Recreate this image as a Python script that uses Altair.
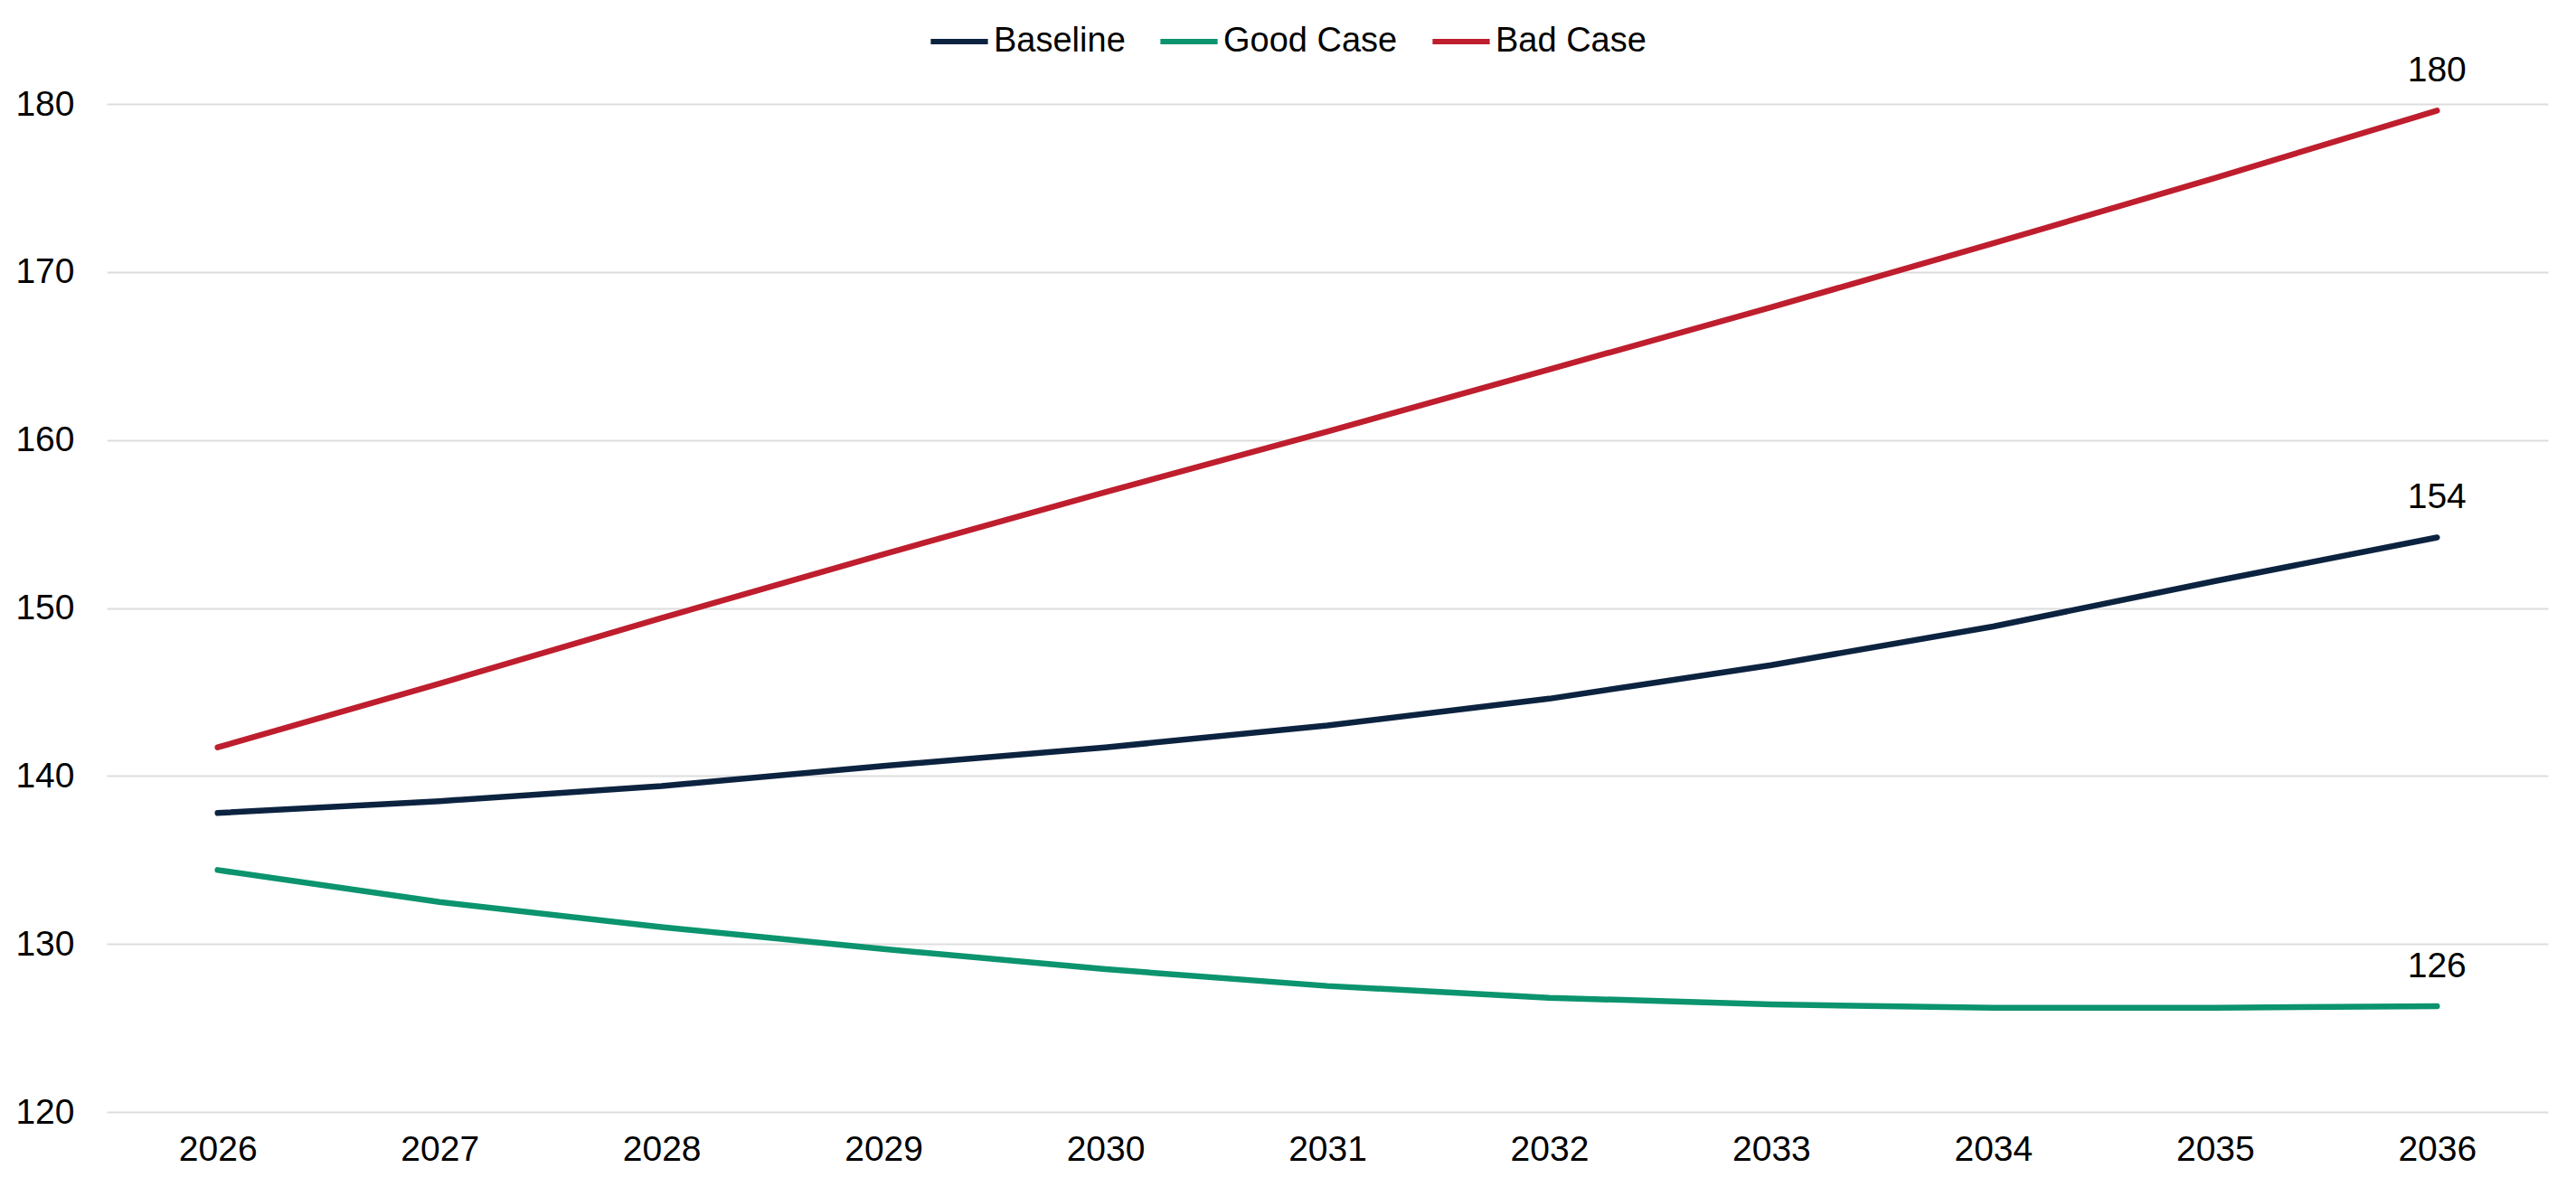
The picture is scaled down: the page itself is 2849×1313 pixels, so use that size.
import altair as alt
import pandas as pd

years = ["2026", "2027", "2028", "2029", "2030", "2031", "2032", "2033", "2034", "2035", "2036"]
baseline = [137.8, 138.5, 139.4, 140.6, 141.7, 143.0, 144.6, 146.6, 148.9, 151.6, 154.2]
good_case = [134.4, 132.5, 131.0, 129.7, 128.5, 127.5, 126.8, 126.4, 126.2, 126.2, 126.3]
bad_case = [141.7, 145.5, 149.4, 153.2, 156.9, 160.5, 164.2, 167.9, 171.7, 175.6, 179.6]

series_names = ["Baseline", "Good Case", "Bad Case"]
series_colors = ["#0c2340", "#0b946e", "#be1e2d"]

rows = []
for name, vals in zip(series_names, [baseline, good_case, bad_case]):
    for y, v in zip(years, vals):
        rows.append({"year": y, "value": v, "series": name})
df = pd.DataFrame(rows)

FONT = "Liberation Sans"
FS = 39

color = alt.Color(
    "series:N",
    scale=alt.Scale(domain=series_names, range=series_colors),
    sort=series_names,
    legend=alt.Legend(
        title=None,
        orient="none",
        direction="horizontal",
        legendX=908,
        legendY=-104,
        symbolType="stroke",
        symbolSize=4000,
        symbolStrokeWidth=6,
        labelFontSize=38,
        labelFont=FONT,
        labelColor="#000000",
        labelOffset=3,
        columnPadding=26,
        labelLimit=400,
    ),
)

x = alt.X(
    "year:O",
    title=None,
    sort=years,
    axis=alt.Axis(
        labelAngle=0,
        labelFontSize=FS,
        labelFont=FONT,
        labelColor="#000000",
        labelPadding=22,
        domain=False,
        ticks=False,
        grid=False,
    ),
)
y = alt.Y(
    "value:Q",
    title=None,
    scale=alt.Scale(domain=[120, 180], nice=False, zero=False),
    axis=alt.Axis(
        values=[120, 130, 140, 150, 160, 170, 180],
        labelFontSize=FS,
        labelFont=FONT,
        labelColor="#000000",
        labelPadding=36,
        domain=False,
        ticks=False,
        grid=True,
        gridColor="#dddddd",
        gridWidth=2,
    ),
)

lines = alt.Chart(df).mark_line(strokeWidth=6.5, strokeCap="round", strokeJoin="round").encode(
    x=x, y=y, color=color
)

labels = alt.Chart(df).transform_filter(
    alt.datum.year == "2036"
).mark_text(
    fontSize=FS, font=FONT, color="#000000", dy=-32, baseline="alphabetic", align="center"
).encode(
    x=alt.X("year:O", sort=years),
    y=alt.Y("value:Q"),
    text=alt.Text("value:Q", format=".0f"),
)

chart = alt.layer(lines, labels).properties(
    width=2700,
    height=1115,
    background="#ffffff",
    autosize=alt.AutoSizeParams(type="none"),
    padding={"left": 110, "top": 107, "right": 20, "bottom": 70},
).configure_view(strokeWidth=0, stroke=None)

chart.save("out.html", embed_options={"renderer": "svg", "actions": False})
